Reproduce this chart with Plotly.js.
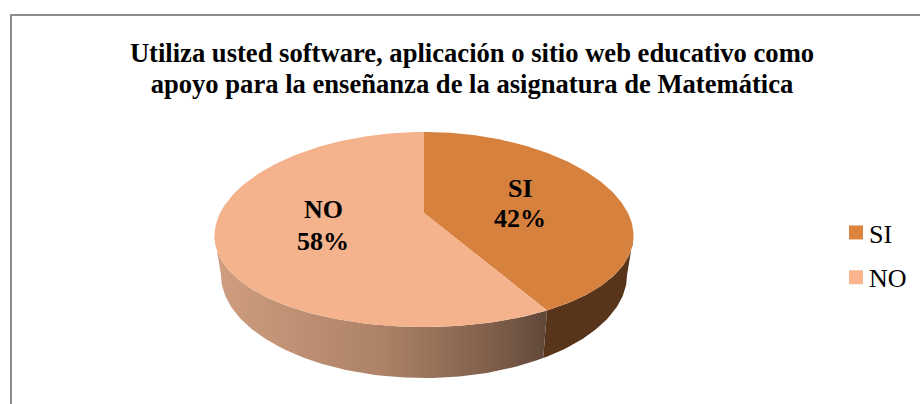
<!DOCTYPE html>
<html><head><meta charset="utf-8">
<script src="https://cdn.plot.ly/plotly-3.0.1.min.js"></script>
<style>html,body{margin:0;padding:0;background:#fff}#c{width:920px;height:404px}</style>
</head><body><div id="c"></div>
<script>
const categories = ['SI', 'NO'];
const shares = [42, 58];
const topColors = ['#d6813d', '#f4b28d'];
const legendColors = ['#dc833e', '#fab48e'];
const titleText = 'Utiliza usted software, aplicación o sitio web educativo como<br>apoyo para la enseñanza de la asignatura de Matemática';
const nameCenters = [[520, 188], [323, 209]];
const shareCenters = [[520, 218], [323, 241]];

// Perspective view of a disc, in pixel-scale axis units
const view = {cx: 424, cy: 213, a: 203.9, b: 94.7, kx: 0.23, ky: 0.169};
const base = {cx: 424, cy: 252, a: 197.6, b: 94.5, kx: 0.23, ky: 0.25};
function project(p, deg) {
  const t = deg * Math.PI / 180, u = Math.sin(t), v = Math.cos(t);
  return [p.cx + p.a * u / (1 + p.kx * v), p.cy - p.b * v / (1 + p.ky * v)];
}
function arc(p, from, to) {
  const n = Math.max(2, Math.ceil(Math.abs(to - from))), pts = [];
  for (let i = 0; i <= n; i++) pts.push(project(p, from + (to - from) * i / n));
  return pts;
}
const total = shares.reduce((s, v) => s + v, 0);
const cut = 360 * shares[0] / total;
const edge = Math.acos(-view.kx) * 180 / Math.PI;

function poly(pts, extra) {
  return Object.assign({
    type: 'scatter', mode: 'lines', fill: 'toself',
    x: pts.map(p => p[0]), y: pts.map(p => p[1]),
    line: {width: 0}, showlegend: false, hoverinfo: 'skip'
  }, extra);
}
const wallSI = arc(view, edge, cut).concat(arc(base, cut, edge));
const wallNO = arc(view, cut, 360 - edge).concat(arc(base, 360 - edge, cut));
const topSI = [[view.cx, view.cy]].concat(arc(view, 0, cut));
const topNO = [[view.cx, view.cy]].concat(arc(view, cut, 360));

const traces = [
  poly(wallSI, {fillcolor: '#57341a'}),
  poly(wallNO, {fillcolor: '#9e7559', fillgradient: {type: 'horizontal', colorscale: [[0, '#d09e80'], [0.5, '#ad8266'], [0.85, '#7d5d49'], [1, '#5f4739']]}}),
  poly(topSI, {fillcolor: topColors[0]}),
  poly(topNO, {fillcolor: topColors[1]})
];
categories.forEach((c, i) => traces.push({
  type: 'scatter', mode: 'markers', x: [null], y: [null], name: c, legendgroup: c,
  marker: {symbol: 'square', size: 14, color: legendColors[i]}, showlegend: true
}));

const serif = '"Liberation Serif", "Times New Roman", serif';
function label(text, at) {
  return {xref: 'x', yref: 'y', x: at[0], y: at[1], showarrow: false, text: '<b>' + text + '</b>',
          font: {family: serif, size: 26, color: '#000'}};
}
const layout = {
  width: 920, height: 404, margin: {l: 0, r: 0, t: 0, b: 0},
  paper_bgcolor: '#fff', plot_bgcolor: '#fff', hovermode: false,
  xaxis: {range: [0, 920], visible: false, fixedrange: true},
  yaxis: {range: [404, 0], visible: false, fixedrange: true},
  title: {text: titleText, x: 472 / 920, xanchor: 'center', y: 1 - 62 / 404, yanchor: 'top',
          font: {family: serif, size: 26.6, color: '#000', weight: 700}},
  legend: {x: 1, y: 0.4825, xanchor: 'right', yanchor: 'top', traceorder: 'grouped', tracegroupgap: 8,
           itemclick: false, itemdoubleclick: false,
           font: {family: serif, size: 26, color: '#000'}, bgcolor: 'rgba(0,0,0,0)'},
  shapes: [
    {type: 'line', xref: 'x', yref: 'y', x0: 11, x1: 11, y0: 14, y1: 404, line: {color: '#8c8c8c', width: 2}},
    {type: 'line', xref: 'x', yref: 'y', x0: 10, x1: 920, y0: 15, y1: 15, line: {color: '#8c8c8c', width: 2}}
  ],
  annotations: categories.flatMap((c, i) => [label(c, nameCenters[i]), label(shares[i] + '%', shareCenters[i])])
};
Plotly.newPlot('c', traces, layout, {displayModeBar: false}).then(() => {
  document.querySelectorAll('.legendtext').forEach(t => t.setAttribute('x', 33));
  const lg = document.querySelector('.legend');
  const m = /translate\(([-\d.]+)[ ,]+([-\d.]+)\)/.exec(lg.getAttribute('transform'));
  lg.setAttribute('transform', 'translate(836,' + m[2] + ')');
  const lines = document.querySelectorAll('.gtitle tspan.line');
  if (lines[1]) lines[1].setAttribute('dy', '31px');
});
</script></body></html>
